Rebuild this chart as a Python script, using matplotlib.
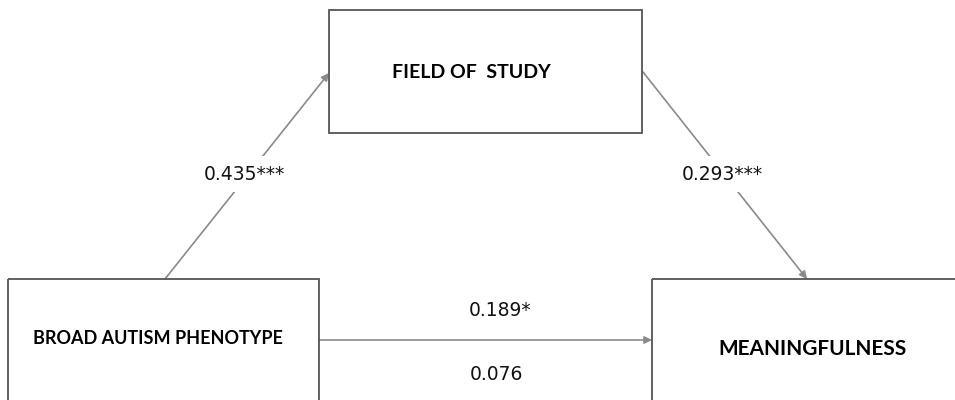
import matplotlib.pyplot as plt
from matplotlib.patches import Rectangle

# variables in the mediation model
predictor = "BROAD AUTISM PHENOTYPE"
mediator = "FIELD OF  STUDY"
outcome = "MEANINGFULNESS"

# path coefficients
path_a = "0.435***"
path_b = "0.293***"
path_c = "0.189*"        # total effect
path_c_prime = "0.076"   # direct effect

box_col = "#555555"
line_col = "#8a8a8a"

fig = plt.figure(figsize=(9.55, 4.0), dpi=100)
ax = fig.add_axes([0, 0, 1, 1])
ax.set_xlim(0, 955)
ax.set_ylim(400, 0)
ax.axis("off")

# boxes: (x, y, w, h) in pixel-ish units, y going down
boxes = {
    "med": (329, 10, 313, 123),
    "pred": (8, 279, 311, 140),
    "out": (652, 279, 320, 140),
}
for key, (x, y, w, h) in boxes.items():
    ax.add_patch(Rectangle((x, y), w, h, fill=False, ec=box_col, lw=1.3, zorder=2))

title_font = dict(family="Lato", weight="bold", color="black", ha="center", va="center")
ax.text(471, 72, mediator, fontsize=14, **title_font)
ax.text(158, 338, predictor, fontsize=13, **title_font)
ax.text(812, 349, outcome, fontsize=15, **title_font)

arrow = dict(arrowstyle="-|>", color=line_col, lw=1.2, mutation_scale=11,
             shrinkA=0, shrinkB=0)
ax.annotate("", xy=(329, 73), xytext=(165, 279), arrowprops=arrow, zorder=1)
ax.annotate("", xy=(807, 279), xytext=(643, 72), arrowprops=arrow, zorder=1)
ax.annotate("", xy=(652, 340), xytext=(319, 340), arrowprops=arrow, zorder=1)

num_font = dict(family="DejaVu Sans", fontsize=13.5, color="#111111", ha="center", va="center")
label_bg = dict(boxstyle="square,pad=0.45", fc="white", ec="none")
ax.text(244, 174, path_a, bbox=label_bg, zorder=3, **num_font)
ax.text(722, 174, path_b, bbox=label_bg, zorder=3, **num_font)
ax.text(500, 310, path_c, **num_font)
ax.text(496, 374, path_c_prime, **num_font)

fig.savefig("out.png", dpi=100, facecolor="white")
